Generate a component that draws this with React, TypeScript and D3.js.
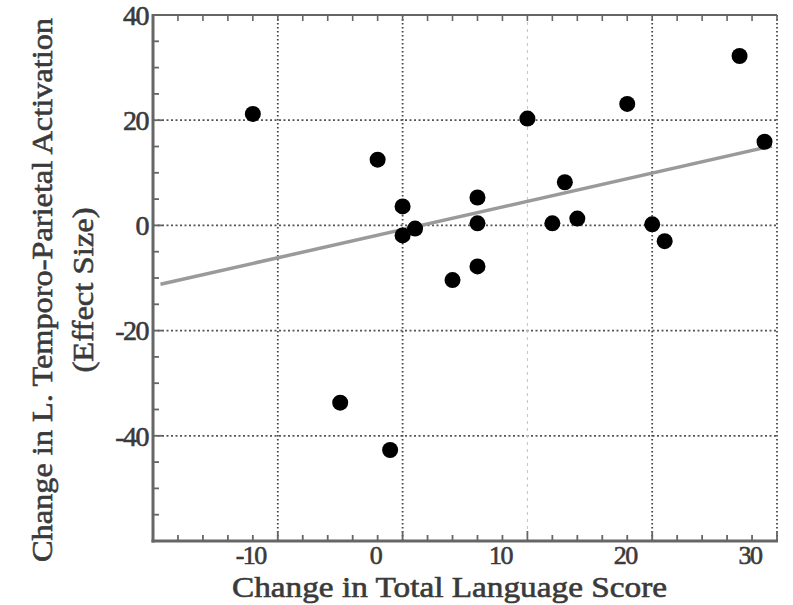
import React from "react";
import * as d3 from "d3";

const scoreChange = [-12, -2, 0, 0, 1, 10, 6, 6, 6, 4, 12, 14, 13, 18, 27, 29, 20, 21, -5, -1];
const activationChange = [21.2, 12.5, 3.6, -1.9, -0.6, 20.3, 5.3, 0.4, -7.8, -10.4, 0.4, 1.3, 8.2, 23.1, 32.2, 15.9, 0.2, -3.0, -33.7, -42.7];
const fitX = [-19.4, 29.6];
const fitY = [-11.2, 15.1];
const xTicks = [-10, 0, 10, 20, 30];
const yTicks = [-40, -20, 0, 20, 40];
const xTitle = "Change in Total Language Score";
const yTitle1 = "Change in L. Temporo-Parietal Activation";
const yTitle2 = "(Effect Size)";

const W = 793, H = 605;
const L = 153, R = 777, T = 15, B = 541;
const FONT = "'Liberation Serif'";

export default function App() {
  const x = d3.scaleLinear().domain([-20, 30]).range([L, R]);
  const y = d3.scaleLinear().domain([-60, 40]).range([B, T]);
  const xMinor = d3.range(-20, 30.01, 2);
  const yMinor = d3.range(-60, 40.01, 5);
  const line = d3.line<number>().x((d, i) => x(fitX[i])).y((d, i) => y(fitY[i]));
  const textCol = "#3a3a3a";
  const txt = { fontFamily: FONT, fill: textCol, stroke: textCol, strokeWidth: 0.6 } as React.CSSProperties;

  return (
    <svg width={W} height={H} style={{ position: "absolute", left: 0, top: 0, background: "#fff" }}>
      <rect x={0} y={0} width={W} height={H} fill="#fff" />
      {/* horizontal grid */}
      {yTicks.filter(v => v > -60 && v < 40).map(v => (
        <line key={"hg" + v} x1={L} x2={R} y1={y(v)} y2={y(v)} stroke="#555" strokeWidth={1.8} strokeDasharray="2,2.5" />
      ))}
      {/* vertical grid */}
      {xTicks.map(v => (
        <line key={"vg" + v} x1={x(v)} x2={x(v)} y1={T} y2={B} stroke={v === 10 ? "#c4c4c4" : "#444"} strokeWidth={v === 10 ? 1 : 1.8} strokeDasharray={v === 10 ? "3,4" : "1.5,2.5"} />
      ))}
      {/* top border */}
      <line x1={L} x2={R} y1={T} y2={T} stroke="#666" strokeWidth={2} />
      {xMinor.map(v => (
        <line key={"tt" + v} x1={x(v)} x2={x(v)} y1={T} y2={T + 6} stroke="#666" strokeWidth={1.6} />
      ))}
      {/* left axis */}
      <line x1={L} x2={L} y1={T - 1} y2={B + 1.5} stroke="#666" strokeWidth={3} />
      {yMinor.map(v => (
        <line key={"yt" + v} x1={L} x2={L + (v % 20 === 0 ? 9 : 6)} y1={y(v)} y2={y(v)} stroke="#666" strokeWidth={1.8} />
      ))}
      {/* bottom axis */}
      <line x1={L - 1.5} x2={R + 1} y1={B} y2={B} stroke="#666" strokeWidth={3} />
      {xMinor.map(v => (
        <line key={"xt" + v} x1={x(v)} x2={x(v)} y1={B} y2={B - (v % 10 === 0 ? 10 : 6)} stroke="#666" strokeWidth={1.8} />
      ))}
      {/* fit line */}
      <path d={line(fitX) || ""} fill="none" stroke="#9a9a9a" strokeWidth={3.5} />
      {/* points */}
      {scoreChange.map((v, i) => (
        <circle key={"p" + i} cx={x(v)} cy={y(activationChange[i])} r={8} fill="#000" />
      ))}
      {/* y tick labels */}
      {yTicks.map(v => (
        <text key={"yl" + v} x={L - 5} y={y(v)} dy="0.35em" textAnchor="end" fontSize={28} letterSpacing={-1.5} style={txt}>
          {v < 0 ? "-" + Math.abs(v) : String(v)}
        </text>
      ))}
      {/* x tick labels */}
      {xTicks.map(v => (
        <text key={"xl" + v} x={x(v)} dx={-27} y={564} textAnchor="middle" fontSize={26} letterSpacing={-1.5} style={txt}>
          {v < 0 ? "-" + Math.abs(v) : String(v)}
        </text>
      ))}
      {/* titles */}
      <text x={449.5} y={597} textAnchor="middle" fontSize={29} textLength={435} lengthAdjust="spacingAndGlyphs" style={txt}>
        {xTitle}
      </text>
      <text transform="translate(52,290) rotate(-90)" textAnchor="middle" fontSize={30} textLength={544} lengthAdjust="spacingAndGlyphs" style={txt}>
        {yTitle1}
      </text>
      <text transform="translate(93,290) rotate(-90)" textAnchor="middle" fontSize={30} textLength={165} lengthAdjust="spacingAndGlyphs" style={txt}>
        {yTitle2}
      </text>
    </svg>
  );
}
